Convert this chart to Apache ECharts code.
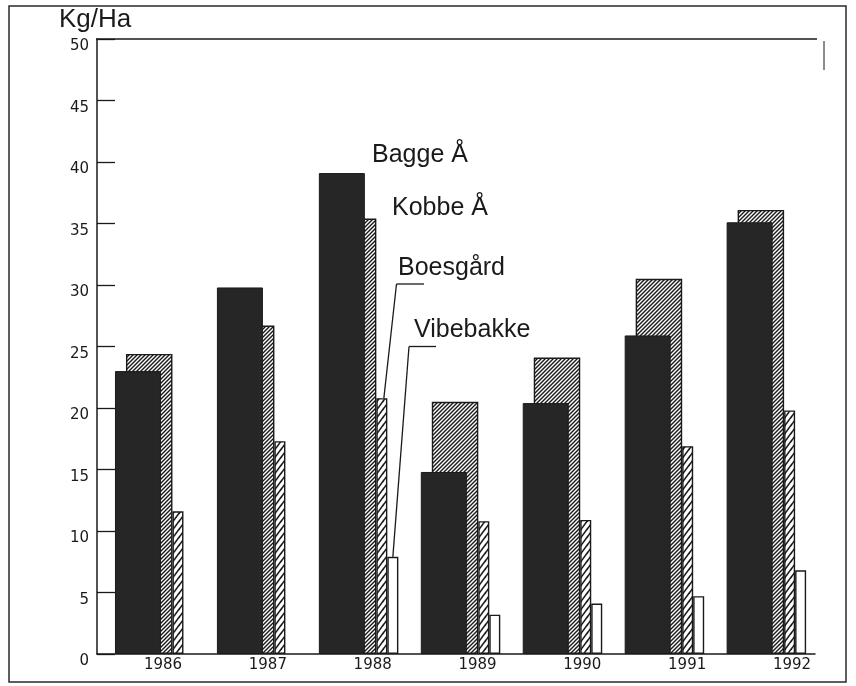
<!DOCTYPE html>
<html><head><meta charset="utf-8">
<script src="https://cdn.jsdelivr.net/npm/echarts@6/dist/echarts.min.js"></script>
<style>html,body{margin:0;padding:0;background:#fff}#c{width:856px;height:686px}</style>
</head><body><div id="c"></div>
<script>
// ---- data ----
const years = ['1986', '1987', '1988', '1989', '1990', '1991', '1992'];
const baggeA = [23.0, 29.8, 39.1, 14.8, 20.4, 25.9, 35.1];
const kobbeA = [24.4, 26.7, 35.4, 20.5, 24.1, 30.5, 36.1];
const boesgaard = [11.6, 17.3, 20.8, 10.8, 10.9, 16.9, 19.8];
const vibebakke = [null, null, 7.9, 3.2, 4.1, 4.7, 6.8];
const seriesNames = ['Bagge Å', 'Kobbe Å', 'Boesgård', 'Vibebakke'];
const unitLabel = 'Kg/Ha';

// ---- hatch patterns ----
function hatch(w, h, lw) {
  const c = document.createElement('canvas');
  c.width = w; c.height = h;
  const g = c.getContext('2d');
  g.fillStyle = '#fff'; g.fillRect(0, 0, w, h);
  g.strokeStyle = '#1a1a1a'; g.lineWidth = lw;
  for (let k = -1; k <= 1; k++) {
    g.beginPath();
    g.moveTo(k * w - w, 2 * h); g.lineTo(k * w + 2 * w, -h);
    g.stroke();
  }
  return c;
}
const denseHatch = hatch(4, 4, 1.4);
const wideHatch = hatch(6, 8, 1.6);

const TOP = 39, H = 615;
const font = 'DejaVu Sans';
function grid(left, width) { return { left: left, width: width, top: TOP, height: H }; }
const hiddenX = (gi) => ({ type: 'category', data: years, gridIndex: gi, show: false });
const hiddenY = (gi) => ({ type: 'value', min: 0, max: 50, interval: 5, gridIndex: gi, show: false });

const chart = echarts.init(document.getElementById('c'), null, { renderer: 'canvas' });
const option = {
  animation: false,
  backgroundColor: '#fff',
  grid: [
    grid(97, 718),      // 0 main axes
    grid(87, 713.6),    // 1 Bagge
    grid(98.25, 713.6), // 2 Kobbe
    grid(127, 713.6),   // 3 Boesgård
    grid(138, 713.6),   // 4 Vibebakke
    grid(110.6, 733.8)  // 5 x labels
  ],
  xAxis: [
    { type: 'category', data: years, gridIndex: 0,
      axisLine: { show: true, lineStyle: { color: '#1a1a1a', width: 1.5 } },
      axisTick: { show: false }, axisLabel: { show: false }, splitLine: { show: false } },
    hiddenX(1), hiddenX(2), hiddenX(3), hiddenX(4),
    { type: 'category', data: years, gridIndex: 5,
      axisLine: { show: false }, axisTick: { show: false }, splitLine: { show: false },
      axisLabel: { show: true, color: '#1a1a1a', fontFamily: font, fontSize: 15, margin: 4 } }
  ],
  yAxis: [
    { type: 'value', min: 0, max: 50, interval: 5, gridIndex: 0,
      axisLine: { show: true, lineStyle: { color: '#1a1a1a', width: 1.5 } },
      axisTick: { show: true, inside: true, length: 18, lineStyle: { color: '#1a1a1a', width: 1.3 } },
      splitLine: { show: false },
      axisLabel: { color: '#1a1a1a', fontFamily: font, fontSize: 15, margin: 8, verticalAlign: 'top' } },
    hiddenY(1), hiddenY(2), hiddenY(3), hiddenY(4), hiddenY(5)
  ],
  series: [
    { name: seriesNames[1], type: 'bar', xAxisIndex: 2, yAxisIndex: 2, data: kobbeA, barWidth: 46.5, z: 2,
      itemStyle: { color: { image: denseHatch, repeat: 'repeat' }, borderColor: '#1a1a1a', borderWidth: 1.4 } },
    { name: seriesNames[0], type: 'bar', xAxisIndex: 1, yAxisIndex: 1, data: baggeA, barWidth: 46, z: 3,
      itemStyle: { color: '#262626', borderColor: '#1a1a1a', borderWidth: 1 } },
    { name: seriesNames[2], type: 'bar', xAxisIndex: 3, yAxisIndex: 3, data: boesgaard, barWidth: 11, z: 2,
      itemStyle: { color: { image: wideHatch, repeat: 'repeat' }, borderColor: '#1a1a1a', borderWidth: 1.4 } },
    { name: seriesNames[3], type: 'bar', xAxisIndex: 4, yAxisIndex: 4, data: vibebakke, barWidth: 11, z: 2,
      itemStyle: { color: '#fff', borderColor: '#1a1a1a', borderWidth: 1.4 } }
  ]
};
chart.setOption(option);

// ---- annotations ----
const pBoes = chart.convertToPixel({ seriesIndex: 2 }, [2, boesgaard[2]]);
const pVibe = chart.convertToPixel({ seriesIndex: 3 }, [2, vibebakke[2]]);
const pTop = chart.convertToPixel({ gridIndex: 0 }, [0, 50]);
const txtStyle = (t, x, y) => ({ type: 'text', left: x, top: y, z: 10,
  style: { text: t, fontFamily: 'Liberation Sans', fontSize: 25, fill: '#1a1a1a' } });
const ln = (x1, y1, x2, y2, w) => ({ type: 'line', z: 10,
  shape: { x1: x1, y1: y1, x2: x2, y2: y2 }, style: { stroke: '#1a1a1a', lineWidth: w || 1.3 } });
chart.setOption({
  graphic: [
    { type: 'rect', z: 0, shape: { x: 9, y: 6, width: 837, height: 676 },
      style: { fill: null, stroke: '#2a2a2a', lineWidth: 1.5 } },
    ln(96, pTop[1], 817, pTop[1], 1.5),
    ln(824, 41, 824, 70, 1),
    { type: 'text', left: 59, top: 7, z: 10,
      style: { text: unitLabel, fontFamily: 'Liberation Sans', fontSize: 26, fill: '#1a1a1a' } },
    txtStyle(seriesNames[0], 372, 143),
    txtStyle(seriesNames[1], 392, 196),
    txtStyle(seriesNames[2], 398, 256),
    txtStyle(seriesNames[3], 414, 318),
    ln(396.5, 284, 424, 284),
    ln(396.5, 284, pBoes[0] + 2, pBoes[1]),
    ln(409, 346.5, 436, 346.5),
    ln(409, 346.5, pVibe[0], pVibe[1])
  ]
});
</script>
</body></html>
